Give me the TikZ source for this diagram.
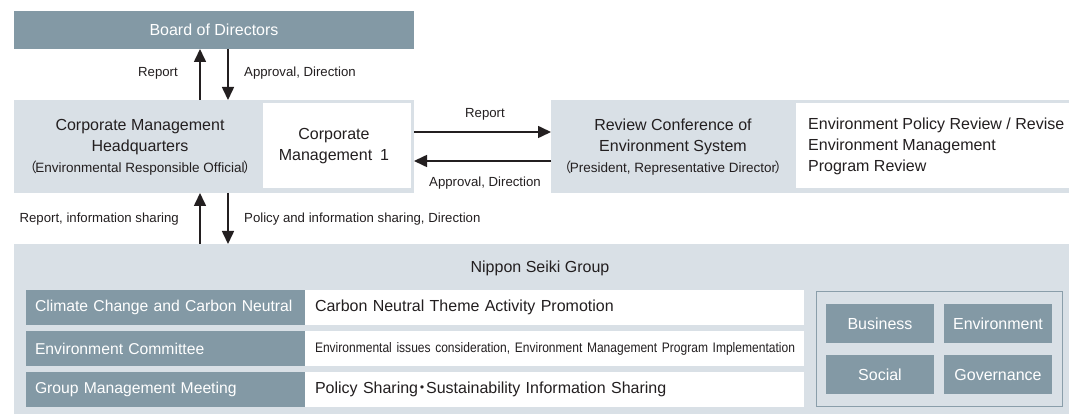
\documentclass[tikz,border=0pt]{standalone}
\usepackage{fontspec}
\usepackage{graphicx}
\setmainfont{Liberation Sans}
\newfontfamily\cjk{Noto Sans CJK JP}
\usetikzlibrary{arrows.meta,calc}
\definecolor{dark}{HTML}{8399A5}
\definecolor{light}{HTML}{D9E0E6}
\definecolor{ink}{HTML}{231F20}
\definecolor{framec}{HTML}{8A9EAA}
\newcommand{\lpar}{{\cjk （}\kern-1.5pt}
\newcommand{\rpar}{\kern-1.5pt{\cjk ）}}
\begin{document}
\begin{tikzpicture}[x=1pt,y=-1pt,
  box/.style={anchor=north west, inner sep=0pt, outer sep=0pt, draw=none},
  big/.style={font=\fontsize{16}{21}\selectfont, text=ink},
  lbl/.style={font=\fontsize{13.2}{16}\selectfont, text=ink, inner sep=0pt},
  darkbox/.style={box, fill=dark, text=white, font=\fontsize{16}{19}\selectfont},
  rowlbl/.style={darkbox, minimum width=279, minimum height=35, text width=261, align=left, inner xsep=9pt, font=\fontsize{15.7}{19}\selectfont},
  rowtxt/.style={box, fill=white, minimum width=499, minimum height=35, text width=479, align=left, inner xsep=10pt, text=ink, font=\fontsize{16}{19}\selectfont},
  tile/.style={darkbox, minimum width=108, minimum height=39},
  arr/.style={-{Triangle[length=13pt,width=12pt]}, line width=1.6pt, draw=ink}
]
\useasboundingbox[fill=white] (0,0) rectangle (1069,414);

% Board
\node[darkbox, minimum width=400, minimum height=38] (board) at (14,11) {Board of Directors};

% Corporate Management HQ
\node[box, fill=light, minimum width=400, minimum height=93] (hq) at (14,100) {};
\node[big, align=center, inner sep=0pt] (hqtext) at (140,147)
  {Corporate Management\\Headquarters\\{\fontsize{13.5}{15}\selectfont\lpar Environmental Responsible Official\rpar}};
\node[box, fill=white, minimum width=148, minimum height=85] (cm) at (263,103) {};
\node[big, align=center, inner sep=0pt] (cmtext) at (334,146) {Corporate\\Management\enspace 1};

% Review Conference
\node[box, fill=light, minimum width=518, minimum height=93] (rev) at (551,100) {};
\node[big, align=center, inner sep=0pt] (revtext) at (673,147)
  {Review Conference of\\Environment System\\{\fontsize{13.5}{15}\selectfont\lpar President, Representative Director\rpar}};
\node[box, fill=white, minimum width=273, minimum height=85] (pol) at (796,103) {};
\node[big, align=left, inner sep=0pt, anchor=west] (poltext) at (808,146)
  {Environment Policy Review / Revise\\Environment Management\\Program Review};

% Group
\node[box, fill=light, minimum width=1055, minimum height=170] (grp) at (14,244) {};
\node[big, inner sep=0pt] (grptitle) at (540,268) {Nippon Seiki Group};

\node[rowlbl] (r1) at (26,290) {\mbox{Climate Change and Carbon Neutral}};
\node[rowlbl] (r2) at (26,331) {Environment Committee};
\node[rowlbl] (r3) at (26,372) {Group Management Meeting};
\node[rowtxt] (t1) at (305,290) {Carbon Neutral Theme Activity Promotion};
\node[rowtxt] (t2) at (305,331) {\resizebox{480pt}{\height}{\fontsize{13.8}{16}\selectfont Environmental issues consideration, Environment Management Program Implementation}};
\node[rowtxt] (t3) at (305,372) {Policy Sharing\kern-4pt{\cjk ・}\kern-4pt Sustainability Information Sharing};

\node[box, fill=light, draw=framec, line width=1pt, minimum width=246, minimum height=114] (esg) at (816,292) {};
\node[tile] (bus) at (826,304) {Business};
\node[tile] (env) at (944,304) {Environment};
\node[tile] (soc) at (826,355) {Social};
\node[tile] (gov) at (944,355) {Governance};

% Vertical connectors
\coordinate (ux) at (200,0);
\coordinate (dx) at (228,0);
\draw[arr] (hq.north -| ux) -- (board.south -| ux);
\draw[arr] (board.south -| dx) -- (hq.north -| dx);
\draw[arr] (grp.north -| ux) -- (hq.south -| ux);
\draw[arr] (hq.south -| dx) -- (grp.north -| dx);
\node[lbl, anchor=east] (l1) at (178,73) {Report};
\node[lbl, anchor=west] (l2) at (244,73) {Approval, Direction};
\node[lbl, anchor=east] (l3) at (179,219) {Report, information sharing};
\node[lbl, anchor=west] (l4) at (244,219) {Policy and information sharing, Direction};

% Horizontal connectors
\coordinate (ry) at (0,132);
\coordinate (ay) at (0,161);
\draw[arr] (hq.east |- ry) -- (rev.west |- ry);
\draw[arr] (rev.west |- ay) -- (hq.east |- ay);
\node[lbl] (l5) at (485,114) {Report};
\node[lbl] (l6) at (485,183) {Approval, Direction};
\end{tikzpicture}
\end{document}
